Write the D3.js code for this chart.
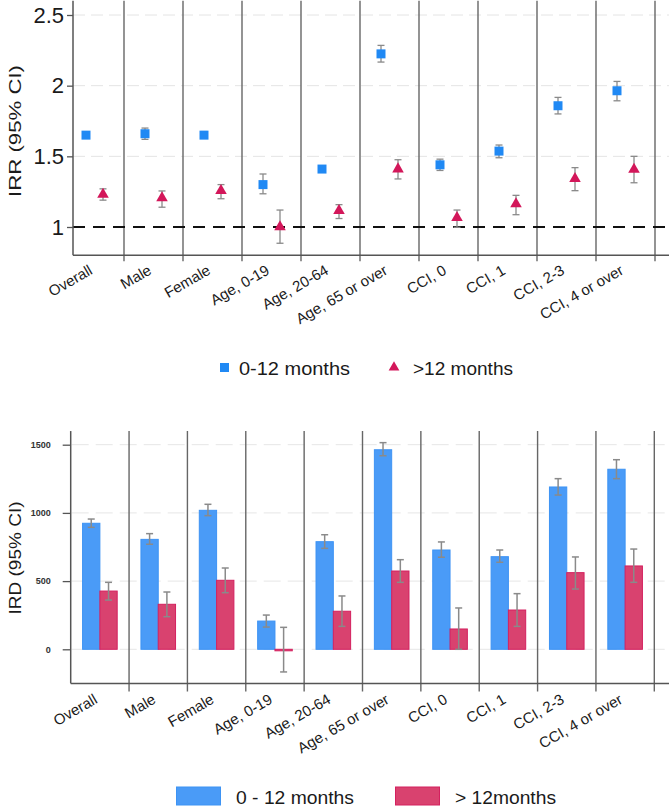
<!DOCTYPE html>
<html>
<head>
<meta charset="utf-8">
<script src="https://cdn.jsdelivr.net/npm/d3@7"></script>
<style>
  body { margin: 0; background: #fff; }
  svg { display: block; font-family: Arial, "Liberation Sans", sans-serif; }
</style>
</head>
<body>
<div class="chart"></div>
<script>
var svgWidth = 669;
var svgHeight = 808;

// categories shared by both panels
var categories = ["Overall", "Male", "Female", "Age, 0-19", "Age, 20-64", "Age, 65 or over",
  "CCI, 0", "CCI, 1", "CCI, 2-3", "CCI, 4 or over"];

// IRR panel (top)
var irrEarly   = [1.65, 1.66, 1.65, 1.30, 1.41, 2.225, 1.44, 1.537, 1.858, 1.964];
var irrEarlyLo = [1.635, 1.62, 1.63, 1.235, 1.40, 2.167, 1.40, 1.49, 1.80, 1.893];
var irrEarlyHi = [1.665, 1.70, 1.675, 1.375, 1.425, 2.285, 1.48, 1.58, 1.917, 2.03];
var irrLate    = [1.23, 1.205, 1.257, 1.00, 1.115, 1.41, 1.066, 1.163, 1.342, 1.408];
var irrLateLo  = [1.19, 1.14, 1.20, 0.885, 1.06, 1.34, 0.998, 1.087, 1.257, 1.313];
var irrLateHi  = [1.27, 1.255, 1.30, 1.12, 1.158, 1.476, 1.12, 1.224, 1.42, 1.50];
var irrTicks = [1, 1.5, 2, 2.5];

// IRD panel (bottom)
var irdEarly   = [924, 806, 1019, 207, 789, 1463, 728, 679, 1190, 1320];
var irdEarlyLo = [894, 770, 980, 163, 740, 1419, 675, 638, 1131, 1251];
var irdEarlyHi = [955, 848, 1063, 251, 840, 1515, 787, 728, 1251, 1390];
var irdLate    = [427, 330, 506, -10, 279, 574, 149, 288, 562, 611];
var irdLateLo  = [361, 239, 415, -166, 168, 491, 0, 168, 442, 491];
var irdLateHi  = [491, 420, 596, 161, 391, 657, 303, 408, 677, 735];
var irdTicks = [0, 500, 1000, 1500];

var legendTop = ["0-12 months", ">12 months"];
var legendBottom = ["0 - 12 months", "> 12months"];

var blue = "#2089f4", red = "#d3175a";
var barBlue = "#4a9bf7", barBlueEdge = "#3d93f4";
var barRed = "#d9426f", barRedEdge = "#d4205f";
var textCol = "#1a1a1a", ciCol = "#8a8a8a", sepCol = "#666";

var svg = d3.select(".chart")
  .append("svg")
    .attr("width", svgWidth)
    .attr("height", svgHeight);

var rows = categories.map(function(c, i) { return i; });

function drawCI(g, x, y, lo, hi, half, col, w) {
  g.append("line").attr("x1", x).attr("x2", x).attr("y1", y(lo)).attr("y2", y(hi))
    .attr("stroke", col).attr("stroke-width", w);
  [lo, hi].forEach(function(v) {
    g.append("line").attr("x1", x - half).attr("x2", x + half).attr("y1", y(v)).attr("y2", y(v))
      .attr("stroke", col).attr("stroke-width", w);
  });
}

// ---------------- top panel: IRR ----------------
var irrG = svg.append("g");
var yIrr = d3.scaleLinear().domain([1, 2.5]).range([227, 15]);
var xIrr = d3.scaleBand().domain(categories).range([65, 655]);
var irrAxisX = 73, irrBase = yIrr(0.8), irrTopY = yIrr(2.6);

// grid lines
irrG.selectAll(".grid")
  .data(irrTicks.slice(1))
  .enter().append("line")
    .attr("x1", irrAxisX).attr("x2", svgWidth)
    .attr("y1", function(d) { return yIrr(d); })
    .attr("y2", function(d) { return yIrr(d); })
    .attr("stroke", "#e4e4e4")
    .attr("stroke-dasharray", "12,6");

// separators between categories
irrG.selectAll(".sep")
  .data(categories)
  .enter().append("line")
    .attr("x1", function(d) { return xIrr(d) + xIrr.bandwidth(); })
    .attr("x2", function(d) { return xIrr(d) + xIrr.bandwidth(); })
    .attr("y1", irrTopY).attr("y2", irrBase + 6)
    .attr("stroke", sepCol).attr("stroke-width", 1.4);

// reference line at 1
irrG.append("line")
  .attr("x1", irrAxisX).attr("x2", svgWidth)
  .attr("y1", yIrr(1)).attr("y2", yIrr(1))
  .attr("stroke", "#111").attr("stroke-width", 2)
  .attr("stroke-dasharray", "12,8");

// axes lines
irrG.append("line")
  .attr("x1", irrAxisX).attr("x2", irrAxisX)
  .attr("y1", irrTopY).attr("y2", irrBase)
  .attr("stroke", "#555").attr("stroke-width", 1.5);
irrG.append("line")
  .attr("x1", irrAxisX).attr("x2", svgWidth)
  .attr("y1", irrBase).attr("y2", irrBase)
  .attr("stroke", "#555").attr("stroke-width", 1.5);

var leftIrr = d3.axisLeft(yIrr).tickValues(irrTicks).tickSize(6).tickPadding(3)
  .tickFormat(function(d) { return d; });
var gIrr = irrG.append("g")
  .attr("transform", "translate(" + irrAxisX + ",0)")
  .call(leftIrr);
gIrr.select(".domain").remove();
gIrr.selectAll(".tick line").attr("stroke", "#555").attr("stroke-width", 1.3);
gIrr.selectAll(".tick text").attr("font-size", 22).attr("fill", textCol)
  .attr("font-family", "Arial, 'Liberation Sans', sans-serif");

irrG.append("text")
  .attr("transform", "translate(21,131) rotate(-90)")
  .attr("text-anchor", "middle")
  .attr("font-size", 16)
  .attr("fill", textCol)
  .attr("textLength", 132)
  .attr("lengthAdjust", "spacingAndGlyphs")
  .text("IRR (95% CI)");

// category labels
irrG.selectAll(".xlab")
  .data(categories)
  .enter().append("text")
    .attr("transform", function(d) {
      return "translate(" + (xIrr(d) + xIrr.bandwidth() / 2 - 1) + "," + (irrBase + 18) + ") rotate(-30)";
    })
    .attr("text-anchor", "end")
    .attr("font-size", 15)
    .attr("fill", textCol)
    .text(function(d) { return d; });

var off = 8.5;
rows.forEach(function(i) {
  var cx = xIrr(categories[i]) + xIrr.bandwidth() / 2;
  drawCI(irrG, cx - off, yIrr, irrEarlyLo[i], irrEarlyHi[i], 3.5, ciCol, 1.3);
  drawCI(irrG, cx + off, yIrr, irrLateLo[i], irrLateHi[i], 3.5, ciCol, 1.3);
});

irrG.selectAll(".sq")
  .data(rows)
  .enter().append("path")
    .attr("d", d3.symbol().type(d3.symbolSquare).size(81))
    .attr("transform", function(i) {
      return "translate(" + (xIrr(categories[i]) + xIrr.bandwidth() / 2 - off) + "," + yIrr(irrEarly[i]) + ")";
    })
    .attr("fill", blue);

irrG.selectAll(".tri")
  .data(rows)
  .enter().append("path")
    .attr("d", d3.symbol().type(d3.symbolTriangle).size(58))
    .attr("transform", function(i) {
      return "translate(" + (xIrr(categories[i]) + xIrr.bandwidth() / 2 + off) + "," + yIrr(irrLate[i]) + ")";
    })
    .attr("fill", red);

// top legend
irrG.append("path")
  .attr("d", d3.symbol().type(d3.symbolSquare).size(81))
  .attr("transform", "translate(224.5,367.5)")
  .attr("fill", blue);
irrG.append("text")
  .attr("x", 239).attr("y", 375)
  .attr("font-size", 18).attr("fill", textCol)
  .attr("textLength", 111).attr("lengthAdjust", "spacingAndGlyphs")
  .text(legendTop[0]);
irrG.append("path")
  .attr("d", d3.symbol().type(d3.symbolTriangle).size(50))
  .attr("transform", "translate(394,367.5)")
  .attr("fill", red);
irrG.append("text")
  .attr("x", 413).attr("y", 375)
  .attr("font-size", 18).attr("fill", textCol)
  .attr("textLength", 100).attr("lengthAdjust", "spacingAndGlyphs")
  .text(legendTop[1]);

// ---------------- bottom panel: IRD ----------------
var irdG = svg.append("g");
var yIrd = d3.scaleLinear().domain([0, 1500]).range([649.3, 444.7]);
var xIrd = d3.scaleBand().domain(categories).range([70.7, 654.3]);
var irdAxisX = 70.7, irdBase = yIrd(-250), irdTopY = yIrd(1600);
var barW = 17.3;

irdG.selectAll(".grid")
  .data(irdTicks)
  .enter().append("line")
    .attr("x1", irdAxisX + 1).attr("x2", svgWidth)
    .attr("y1", function(d) { return yIrd(d); })
    .attr("y2", function(d) { return yIrd(d); })
    .attr("stroke", "#e6e6e6")
    .attr("stroke-dasharray", "17,7");

irdG.selectAll(".sep")
  .data(categories)
  .enter().append("line")
    .attr("x1", function(d) { return xIrd(d) + xIrd.bandwidth(); })
    .attr("x2", function(d) { return xIrd(d) + xIrd.bandwidth(); })
    .attr("y1", irdTopY).attr("y2", irdBase + 8)
    .attr("stroke", sepCol).attr("stroke-width", 1.4);

irdG.append("line")
  .attr("x1", irdAxisX).attr("x2", irdAxisX)
  .attr("y1", irdTopY).attr("y2", irdBase)
  .attr("stroke", "#555").attr("stroke-width", 1.5);
irdG.append("line")
  .attr("x1", irdAxisX).attr("x2", svgWidth)
  .attr("y1", irdBase).attr("y2", irdBase)
  .attr("stroke", "#555").attr("stroke-width", 1.5);

var leftIrd = d3.axisLeft(yIrd).tickValues(irdTicks).tickSize(8).tickPadding(12)
  .tickFormat(function(d) { return d; });
var gIrd = irdG.append("g")
  .attr("transform", "translate(" + irdAxisX + ",0)")
  .call(leftIrd);
gIrd.select(".domain").remove();
gIrd.selectAll(".tick line").attr("stroke", "#555").attr("stroke-width", 1.3);
gIrd.selectAll(".tick text").attr("font-size", 9).attr("font-weight", "bold").attr("fill", "#333")
  .attr("font-family", "Arial, 'Liberation Sans', sans-serif");

irdG.append("text")
  .attr("transform", "translate(21,558) rotate(-90)")
  .attr("text-anchor", "middle")
  .attr("font-size", 16)
  .attr("fill", textCol)
  .attr("textLength", 113)
  .attr("lengthAdjust", "spacingAndGlyphs")
  .text("IRD (95% CI)");

irdG.selectAll(".xlab")
  .data(categories)
  .enter().append("text")
    .attr("transform", function(d) {
      return "translate(" + (xIrd(d) + xIrd.bandwidth() / 2 - 1.5) + "," + (irdBase + 19) + ") rotate(-30)";
    })
    .attr("text-anchor", "end")
    .attr("font-size", 15)
    .attr("fill", textCol)
    .text(function(d) { return d; });

function barRect(v) {
  return { y: Math.min(yIrd(v), yIrd(0)), h: Math.abs(yIrd(v) - yIrd(0)) };
}

irdG.selectAll(".bb")
  .data(rows)
  .enter().append("rect")
    .attr("x", function(i) { return xIrd(categories[i]) + xIrd.bandwidth() / 2 - barW; })
    .attr("y", function(i) { return barRect(irdEarly[i]).y; })
    .attr("width", barW)
    .attr("height", function(i) { return barRect(irdEarly[i]).h; })
    .attr("fill", barBlue).attr("stroke", barBlueEdge).attr("stroke-width", 1);

irdG.selectAll(".br")
  .data(rows)
  .enter().append("rect")
    .attr("x", function(i) { return xIrd(categories[i]) + xIrd.bandwidth() / 2; })
    .attr("y", function(i) { return barRect(irdLate[i]).y; })
    .attr("width", barW)
    .attr("height", function(i) { return Math.max(barRect(irdLate[i]).h, 1.5); })
    .attr("fill", barRed).attr("stroke", barRedEdge).attr("stroke-width", 1);

rows.forEach(function(i) {
  var cx = xIrd(categories[i]) + xIrd.bandwidth() / 2;
  drawCI(irdG, cx - barW / 2, yIrd, irdEarlyLo[i], irdEarlyHi[i], 3.5, ciCol, 1.5);
  drawCI(irdG, cx + barW / 2, yIrd, irdLateLo[i], irdLateHi[i], 3.5, ciCol, 1.5);
});

// bottom legend
irdG.append("rect")
  .attr("x", 176.5).attr("y", 787).attr("width", 44).attr("height", 18)
  .attr("fill", barBlue).attr("stroke", barBlueEdge);
irdG.append("text")
  .attr("x", 236).attr("y", 804)
  .attr("font-size", 18).attr("fill", textCol)
  .attr("textLength", 118).attr("lengthAdjust", "spacingAndGlyphs")
  .text(legendBottom[0]);
irdG.append("rect")
  .attr("x", 395.5).attr("y", 787).attr("width", 44).attr("height", 18)
  .attr("fill", barRed).attr("stroke", barRedEdge);
irdG.append("text")
  .attr("x", 455).attr("y", 804)
  .attr("font-size", 18).attr("fill", textCol)
  .attr("textLength", 101).attr("lengthAdjust", "spacingAndGlyphs")
  .text(legendBottom[1]);
</script>
</body>
</html>
